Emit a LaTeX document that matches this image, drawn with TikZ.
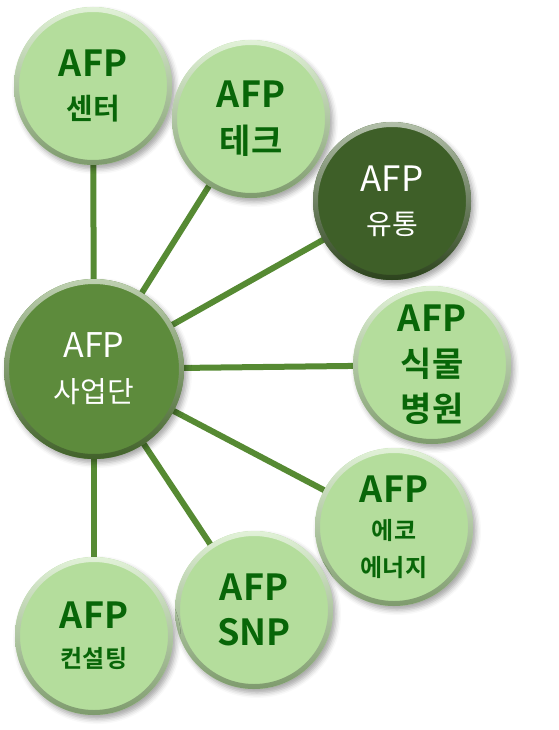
\documentclass[tikz,border=0pt]{standalone}
\usepackage{fontspec}
\setmainfont{Noto Sans CJK KR}[BoldFont={Noto Sans CJK KR Bold}]
\usetikzlibrary{shadows.blur,backgrounds}
\definecolor{leafgreen}{RGB}{180,221,156}
\definecolor{hubgreen}{RGB}{93,139,60}
\definecolor{deepgreen}{RGB}{62,95,40}
\definecolor{inkgreen}{RGB}{8,102,8}
\definecolor{spokegreen}{RGB}{86,138,51}

\newcommand{\fs}[2]{\fontsize{#1}{#2}\selectfont}
\tikzset{
  bevel/.style n args={2}{path picture={
      \shade[top color=#1!40!white, middle color=#1, bottom color=#1!70!black, even odd rule]
        (path picture bounding box.center) circle[radius=#2] circle[radius=#2-5pt];}},
  bubble/.style={circle, inner sep=0pt, minimum size=2*#1, align=center,
    blur shadow={shadow xshift=3pt, shadow yshift=-4pt, shadow blur radius=5pt, shadow opacity=35}},
  leaf/.style={bubble=79pt, fill=leafgreen, bevel={leafgreen}{79pt}, text=inkgreen,
    font=\bfseries\fs{36}{#1}},
  hubbox/.style={bubble=90pt, fill=hubgreen, bevel={hubgreen}{90pt}, text=white, font=\fs{34}{45}},
  deepbox/.style={bubble=79pt, fill=deepgreen, bevel={deepgreen}{79pt}, text=white, font=\fs{35}{43}},
  spoke/.style={spokegreen, line width=6pt},
}

\begin{document}
\begin{tikzpicture}[x=1pt, y=-1pt]
  \useasboundingbox (0,0) rectangle (558,730);
  % hub and the seven units
  \node[hubbox]    (hub)     at (94,369)  {AFP\\\fs{29}{45}사업단};
  \node[leaf=43]   (centre)  at (93,86)   {AFP\\\fs{29}{43}센터};
  \node[leaf=46]   (tech)    at (251,119) {AFP\\\fs{34}{46}테크};
  \node[deepbox]   (trade)   at (392,201) {AFP\\\fs{28}{43}유통};
  \node[leaf=45]   (clinic)  at (432,365) {AFP\\\fs{34}{45}식물\\\fs{34}{45}병원};
  \node[leaf=37]   (eco)     at (394,527) {AFP\\\fs{24}{37}에코\\\fs{24}{37}에너지};
  \node[leaf=45]   (snp)     at (254,610) {AFP\\SNP};
  \node[leaf=39]   (consult) at (94,636)  {AFP\\\fs{24}{39}컨설팅};
  % spokes behind the circles
  \begin{scope}[on background layer]
    \foreach \unit in {centre, tech, trade, clinic, eco, snp, consult}{
      \draw[spoke] (hub.center) -- (\unit.center);
    }
  \end{scope}
\end{tikzpicture}
\end{document}
